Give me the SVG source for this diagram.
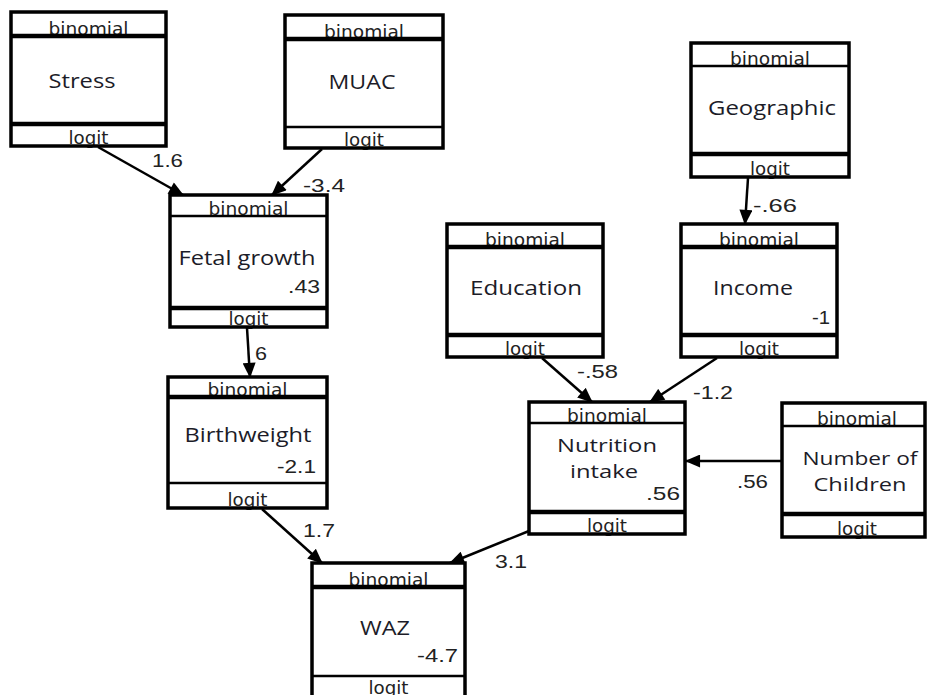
<svg xmlns="http://www.w3.org/2000/svg" width="927" height="695" viewBox="0 0 927 695">
<style>
.bg{fill:#fff}
.bd{fill:none;stroke:#000;stroke-width:3.5}
.dv{stroke:#000;stroke-width:4.5}
.dt{stroke:#000;stroke-width:2.5}
.hd{font-family:"DejaVu Sans",sans-serif;font-size:18px;fill:#222;text-anchor:middle}
.lb{font-family:"Open Sans",sans-serif;font-size:20px;fill:#1c1c28;text-anchor:middle}
.l2{font-family:"Open Sans",sans-serif;font-size:19px;fill:#1c1c28;text-anchor:middle}
.nm{font-family:"Liberation Sans",Arial,sans-serif;font-size:19px;fill:#222}
.ne{font-family:"Liberation Sans",Arial,sans-serif;font-size:19px;fill:#222;text-anchor:end}
.cn{stroke:#000;stroke-width:2.5;fill:none;marker-end:url(#ah)}
</style>
<defs>
<marker id="ah" viewBox="0 0 14 12" refX="13" refY="6" markerWidth="16" markerHeight="13" orient="auto" markerUnits="userSpaceOnUse">
<path d="M0,0 L14,6 L0,12 z" fill="#000"/>
</marker>
</defs>
<rect width="927" height="695" fill="#fff"/>

<g id="connectors">
<path class="cn" d="M98,147 L183,195"/>
<path class="cn" d="M322,149 L272,195"/>
<path class="cn" d="M247,328 L250,377"/>
<path class="cn" d="M262,509 L322,563"/>
<path class="cn" d="M529,531 L450,563"/>
<path class="cn" d="M542,358 L592,402"/>
<path class="cn" d="M717,358 L650,402"/>
<path class="cn" d="M782,461 L686,461"/>
<path class="cn" d="M748,178 L745,224"/>
<text class="nm" x="152" y="167" textLength="31" lengthAdjust="spacingAndGlyphs">1.6</text>
<text class="nm" x="303" y="192" textLength="42" lengthAdjust="spacingAndGlyphs">-3.4</text>
<text class="nm" x="255" y="360" textLength="12" lengthAdjust="spacingAndGlyphs">6</text>
<text class="nm" x="753" y="212" textLength="44" lengthAdjust="spacingAndGlyphs">-.66</text>
<text class="nm" x="577" y="378" textLength="41" lengthAdjust="spacingAndGlyphs">-.58</text>
<text class="nm" x="693" y="399" textLength="40" lengthAdjust="spacingAndGlyphs">-1.2</text>
<text class="nm" x="737" y="488" textLength="31" lengthAdjust="spacingAndGlyphs">.56</text>
<text class="nm" x="303" y="537" textLength="32" lengthAdjust="spacingAndGlyphs">1.7</text>
<text class="nm" x="495" y="568" textLength="32" lengthAdjust="spacingAndGlyphs">3.1</text>
</g>

<g id="stress">
<rect class="bg" x="11" y="12" width="155" height="134"/>
<text class="hd" x="88.5" y="35" textLength="80" lengthAdjust="spacingAndGlyphs">binomial</text>
<text class="lb" x="82" y="88" textLength="67" lengthAdjust="spacingAndGlyphs">Stress</text>
<text class="hd" x="88.5" y="144" textLength="40" lengthAdjust="spacingAndGlyphs">logit</text>
<line class="dv" x1="11" y1="36" x2="166" y2="36"/>
<line class="dv" x1="11" y1="124" x2="166" y2="124"/>
<rect class="bd" x="11" y="12" width="155" height="134"/>
</g>

<g id="muac">
<rect class="bg" x="285" y="15" width="158" height="133"/>
<text class="hd" x="364" y="38" textLength="80" lengthAdjust="spacingAndGlyphs">binomial</text>
<text class="lb" x="362" y="89" textLength="67" lengthAdjust="spacingAndGlyphs">MUAC</text>
<text class="hd" x="364" y="146" textLength="40" lengthAdjust="spacingAndGlyphs">logit</text>
<line class="dv" x1="285" y1="39" x2="443" y2="39"/>
<line class="dt" x1="285" y1="127" x2="443" y2="127"/>
<rect class="bd" x="285" y="15" width="158" height="133"/>
</g>

<g id="geographic">
<rect class="bg" x="691" y="43" width="158" height="134"/>
<text class="hd" x="770" y="65" textLength="80" lengthAdjust="spacingAndGlyphs">binomial</text>
<text class="lb" x="772" y="115" textLength="128" lengthAdjust="spacingAndGlyphs">Geographic</text>
<text class="hd" x="770" y="175" textLength="40" lengthAdjust="spacingAndGlyphs">logit</text>
<line class="dt" x1="691" y1="66" x2="849" y2="66"/>
<line class="dv" x1="691" y1="154" x2="849" y2="154"/>
<rect class="bd" x="691" y="43" width="158" height="134"/>
</g>

<g id="fetal-growth">
<rect class="bg" x="170" y="195" width="157" height="132"/>
<text class="hd" x="248.5" y="215" textLength="80" lengthAdjust="spacingAndGlyphs">binomial</text>
<text class="lb" x="247" y="265" textLength="137" lengthAdjust="spacingAndGlyphs">Fetal growth</text>
<text class="ne" x="320" y="293" textLength="32" lengthAdjust="spacingAndGlyphs">.43</text>
<text class="hd" x="248.5" y="325" textLength="40" lengthAdjust="spacingAndGlyphs">logit</text>
<line class="dt" x1="170" y1="216" x2="327" y2="216"/>
<line class="dv" x1="170" y1="308" x2="327" y2="308"/>
<rect class="bd" x="170" y="195" width="157" height="132"/>
</g>

<g id="education">
<rect class="bg" x="447" y="224" width="156" height="133"/>
<text class="hd" x="525" y="246" textLength="80" lengthAdjust="spacingAndGlyphs">binomial</text>
<text class="lb" x="526" y="295" textLength="112" lengthAdjust="spacingAndGlyphs">Education</text>
<text class="hd" x="525" y="355" textLength="40" lengthAdjust="spacingAndGlyphs">logit</text>
<line class="dv" x1="447" y1="247" x2="603" y2="247"/>
<line class="dv" x1="447" y1="335" x2="603" y2="335"/>
<rect class="bd" x="447" y="224" width="156" height="133"/>
</g>

<g id="income">
<rect class="bg" x="681" y="224" width="156" height="133"/>
<text class="hd" x="759" y="246" textLength="80" lengthAdjust="spacingAndGlyphs">binomial</text>
<text class="lb" x="753" y="295" textLength="80" lengthAdjust="spacingAndGlyphs">Income</text>
<text class="ne" x="830" y="324" textLength="18" lengthAdjust="spacingAndGlyphs">-1</text>
<text class="hd" x="759" y="355" textLength="40" lengthAdjust="spacingAndGlyphs">logit</text>
<line class="dv" x1="681" y1="247" x2="837" y2="247"/>
<line class="dv" x1="681" y1="335" x2="837" y2="335"/>
<rect class="bd" x="681" y="224" width="156" height="133"/>
</g>

<g id="birthweight">
<rect class="bg" x="168" y="377" width="159" height="131"/>
<text class="hd" x="247.5" y="396" textLength="80" lengthAdjust="spacingAndGlyphs">binomial</text>
<text class="lb" x="248" y="442" textLength="127" lengthAdjust="spacingAndGlyphs">Birthweight</text>
<text class="ne" x="316" y="473" textLength="39" lengthAdjust="spacingAndGlyphs">-2.1</text>
<text class="hd" x="247.5" y="506" textLength="40" lengthAdjust="spacingAndGlyphs">logit</text>
<line class="dv" x1="168" y1="397" x2="327" y2="397"/>
<line class="dt" x1="168" y1="483" x2="327" y2="483"/>
<rect class="bd" x="168" y="377" width="159" height="131"/>
</g>

<g id="nutrition-intake">
<rect class="bg" x="529" y="402" width="156" height="132"/>
<text class="hd" x="607" y="422" textLength="80" lengthAdjust="spacingAndGlyphs">binomial</text>
<text class="l2" x="607" y="452" textLength="100" lengthAdjust="spacingAndGlyphs">Nutrition</text>
<text class="l2" x="604" y="478" textLength="68" lengthAdjust="spacingAndGlyphs">intake</text>
<text class="ne" x="680" y="500" textLength="34" lengthAdjust="spacingAndGlyphs">.56</text>
<text class="hd" x="607" y="532" textLength="40" lengthAdjust="spacingAndGlyphs">logit</text>
<line class="dt" x1="529" y1="423" x2="685" y2="423"/>
<line class="dv" x1="529" y1="512" x2="685" y2="512"/>
<rect class="bd" x="529" y="402" width="156" height="132"/>
</g>

<g id="number-of-children">
<rect class="bg" x="782" y="403" width="143" height="134"/>
<text class="hd" x="857" y="425" textLength="80" lengthAdjust="spacingAndGlyphs">binomial</text>
<text class="l2" x="860" y="465" textLength="115" lengthAdjust="spacingAndGlyphs">Number of</text>
<text class="l2" x="860" y="491" textLength="93" lengthAdjust="spacingAndGlyphs">Children</text>
<text class="hd" x="857" y="535" textLength="40" lengthAdjust="spacingAndGlyphs">logit</text>
<line class="dt" x1="782" y1="426" x2="925" y2="426"/>
<line class="dv" x1="782" y1="514" x2="925" y2="514"/>
<rect class="bd" x="782" y="403" width="143" height="134"/>
</g>

<g id="waz">
<rect class="bg" x="312" y="563" width="153" height="140"/>
<text class="hd" x="388.5" y="586" textLength="80" lengthAdjust="spacingAndGlyphs">binomial</text>
<text class="lb" x="385" y="635" textLength="50" lengthAdjust="spacingAndGlyphs">WAZ</text>
<text class="ne" x="458" y="662" textLength="41" lengthAdjust="spacingAndGlyphs">-4.7</text>
<text class="hd" x="388.5" y="694" textLength="40" lengthAdjust="spacingAndGlyphs">logit</text>
<line class="dv" x1="312" y1="587" x2="465" y2="587"/>
<line class="dt" x1="312" y1="676" x2="465" y2="676"/>
<rect class="bd" x="312" y="563" width="153" height="140"/>
</g>
</svg>
